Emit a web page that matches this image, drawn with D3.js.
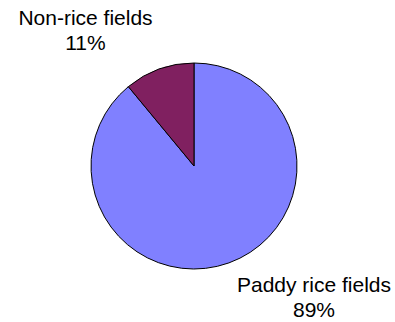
<!DOCTYPE html>
<html>
<head>
<meta charset="utf-8">
<script src="https://cdn.jsdelivr.net/npm/d3@7"></script>
<style>
  body { margin: 0; background: #fff; }
  text { font-family: "Liberation Sans", Arial, sans-serif; fill: #000; }
</style>
</head>
<body>
<svg width="395" height="322"></svg>
<script>
const categories = ["Paddy rice fields", "Non-rice fields"];
const shares = [89, 11];
const colors = ["#8080ff", "#802060"];

const svg = d3.select("svg");
const cx = 194, cy = 166, radius = 103;
const fontSize = 21;

const data = categories.map((c, i) => ({ name: c, value: shares[i], color: colors[i] }));

// first slice drawn clockwise from 12 o'clock, so non-rice ends up just left of top
const pie = d3.pie().sort(null).value(d => d.value);
const arc = d3.arc().innerRadius(0).outerRadius(radius);

const g = svg.append("g").attr("transform", `translate(${cx},${cy})`);

g.selectAll("path")
    .data(pie(data))
    .enter()
    .append("path")
    .attr("d", arc)
    .attr("fill", d => d.data.color)
    .attr("stroke", "#000")
    .attr("stroke-width", 1);

// label positions
const labelPos = [
    { x: 314, y: 292 },
    { x: 85.5, y: 25 }
];
const lineGap = 25;

data.forEach((d, i) => {
    const t = svg.append("text")
        .attr("text-anchor", "middle")
        .attr("font-size", fontSize);
    t.append("tspan").attr("x", labelPos[i].x).attr("y", labelPos[i].y).text(d.name);
    t.append("tspan").attr("x", labelPos[i].x).attr("y", labelPos[i].y + lineGap).text(d.value + "%");
});
</script>
</body>
</html>
